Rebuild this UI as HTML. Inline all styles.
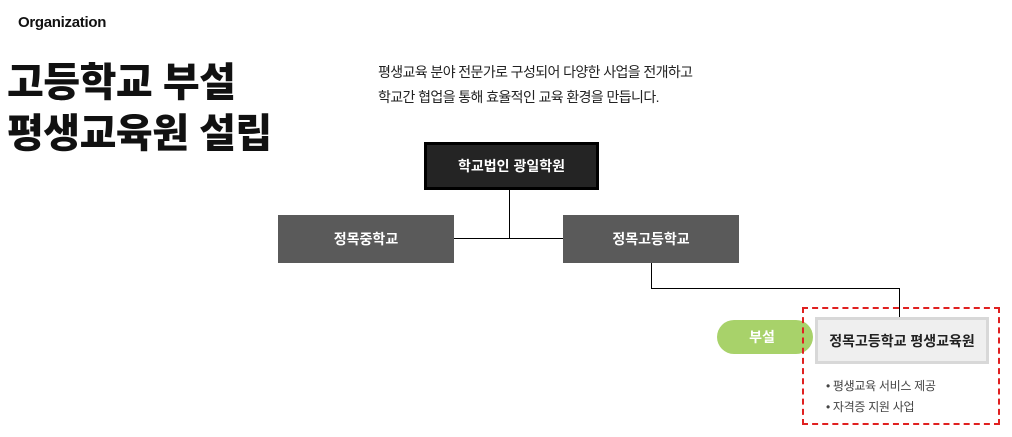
<!DOCTYPE html>
<html><head><meta charset="utf-8"><style>
body{margin:0;width:1012px;height:437px;background:#fff;position:relative;overflow:hidden;font-family:"Liberation Sans","Noto Sans CJK KR",sans-serif;color:#111}
.a{position:absolute}
.org{left:18px;top:14px;font-size:15px;font-weight:bold;letter-spacing:-0.3px}
.t{left:7px;font-size:40px;font-weight:900;letter-spacing:-0.5px;line-height:1;white-space:nowrap}
.d{left:378px;font-size:14px;color:#222;letter-spacing:-0.6px;white-space:nowrap}
.box{display:flex;align-items:center;justify-content:center;color:#fff;font-weight:bold;font-size:14px;box-sizing:border-box}
.l{background:#000}
</style></head><body>
<div class="a org">Organization</div>
<div class="a t" style="top:63px">고등학교 부설</div>
<div class="a t" style="top:114px">평생교육원 설립</div>
<div class="a d" style="top:62px">평생교육 분야 전문가로 구성되어 다양한 사업을 전개하고</div>
<div class="a d" style="top:87px">학교간 협업을 통해 효율적인 교육 환경을 만듭니다.</div>

<div class="a l" style="left:509px;top:190px;width:1px;height:48px"></div>
<div class="a l" style="left:454px;top:238px;width:109px;height:1px"></div>
<div class="a l" style="left:651px;top:263px;width:1px;height:26px"></div>
<div class="a l" style="left:651px;top:288px;width:249px;height:1px"></div>
<div class="a l" style="left:899px;top:288px;width:1px;height:30px"></div>

<div class="a box" style="left:424px;top:142px;width:175px;height:48px;background:#242424;border:3px solid #000">학교법인 광일학원</div>
<div class="a box" style="left:278px;top:215px;width:176px;height:48px;background:#5a5a5a">정목중학교</div>
<div class="a box" style="left:563px;top:215px;width:176px;height:48px;background:#5a5a5a">정목고등학교</div>

<div class="a box" style="left:717px;top:320px;width:96px;height:34px;border-radius:17px;background:#a8d26a;padding-right:6px;font-weight:600">부설</div>
<div class="a" style="left:802px;top:307px;width:198px;height:118px;box-sizing:border-box;border:2px dashed #e02020"></div>
<div class="a box" style="left:815px;top:317px;width:174px;height:47px;background:#efefef;border:3px solid #d8d8d8;color:#222">정목고등학교 평생교육원</div>
<div class="a" style="left:826px;top:376px;font-size:12px;color:#444;line-height:21px;letter-spacing:-0.3px">• 평생교육 서비스 제공<br>• 자격증 지원 사업</div>
</body></html>
